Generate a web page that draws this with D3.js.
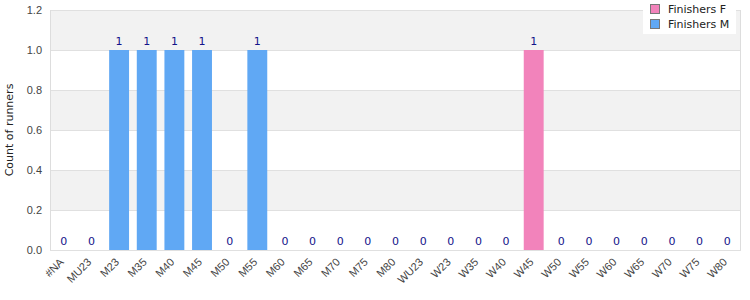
<!DOCTYPE html>
<html>
<head>
<meta charset="utf-8">
<script src="https://cdn.jsdelivr.net/npm/d3@7"></script>
<style>
  body { margin: 0; background: #fff; }
  svg { font-family: "DejaVu Sans", sans-serif; }
</style>
</head>
<body>
<div class="chart"></div>
<script>
// Data.
const categories = ["#NA", "MU23", "M23", "M35", "M40", "M45", "M50", "M55", "M60", "M65",
  "M70", "M75", "M80", "WU23", "W23", "W35", "W40", "W45", "W50", "W55", "W60", "W65",
  "W70", "W75", "W80"];
const finishersF = [0, 0, 0, 0, 0, 0, 0, 0, 0, 0, 0, 0, 0, 0, 0, 0, 0, 1, 0, 0, 0, 0, 0, 0, 0];
const finishersM = [0, 0, 1, 1, 1, 1, 0, 1, 0, 0, 0, 0, 0, 0, 0, 0, 0, 0, 0, 0, 0, 0, 0, 0, 0];
const yTicks = [0, 0.2, 0.4, 0.6, 0.8, 1.0, 1.2];
const seriesNames = ["Finishers F", "Finishers M"];
const seriesColors = ["#f283bb", "#60a8f4"];

// Combined value per category (only one series is non-zero at a time).
const rows = categories.map((c, i) => ({
  cat: c,
  value: finishersF[i] + finishersM[i],
  series: finishersF[i] > 0 ? 0 : 1,
}));

const W = 750, H = 300;
const margin = { top: 10, right: 9, bottom: 50, left: 50 };
const width = W - margin.left - margin.right;
const height = H - margin.top - margin.bottom;

const svg = d3.select(".chart").append("svg")
  .attr("width", W).attr("height", H);
const g = svg.append("g").attr("transform", `translate(${margin.left},${margin.top})`);

const x = d3.scaleBand().domain(categories).range([0, width]).paddingInner(0.28).paddingOuter(0.14);
const y = d3.scaleLinear().domain([0, 1.2]).range([height, 0]);

// Striped background.
for (let i = 0; i < yTicks.length - 1; i++) {
  g.append("rect")
    .attr("x", 0).attr("width", width)
    .attr("y", y(yTicks[i + 1]))
    .attr("height", y(yTicks[i]) - y(yTicks[i + 1]))
    .attr("fill", i % 2 === 1 ? "#f2f2f2" : "#fff");
}

// Grid lines.
g.append("g").selectAll("line").data(yTicks).join("line")
  .attr("x1", 0).attr("x2", width)
  .attr("y1", d => y(d) + 0.5).attr("y2", d => y(d) + 0.5)
  .attr("stroke", "#e0e0e0");
g.append("line").attr("x1", 0.5).attr("x2", 0.5).attr("y1", 0).attr("y2", height).attr("stroke", "#ddd");
g.append("line").attr("x1", width - 0.5).attr("x2", width - 0.5).attr("y1", 0).attr("y2", height).attr("stroke", "#ddd");

// Y axis.
const yAxis = g.append("g")
  .call(d3.axisLeft(y).tickValues(yTicks).tickFormat(d3.format(".1f")).tickSize(0));
yAxis.select(".domain").remove();
yAxis.selectAll("text").attr("x", -8).attr("fill", "#444").style("font-size", "11px");

// X axis.
const xAxis = g.append("g").attr("transform", `translate(0,${height})`)
  .call(d3.axisBottom(x).tickSize(0));
xAxis.select(".domain").remove();
xAxis.selectAll("text")
  .attr("fill", "#444").style("font-size", "11px")
  .attr("text-anchor", "end")
  .attr("y", 0)
  .attr("dy", "0.35em")
  .attr("transform", "translate(-2,10) rotate(-45)");

// Y label.
svg.append("text")
  .attr("transform", `translate(9,${margin.top + height / 2}) rotate(-90)`)
  .attr("text-anchor", "middle")
  .attr("dy", "0.35em")
  .style("font-size", "11px")
  .attr("fill", "#222")
  .text("Count of runners");

// Bars.
g.append("g").selectAll("rect").data(rows.filter(d => d.value > 0)).join("rect")
  .attr("x", d => x(d.cat))
  .attr("width", x.bandwidth())
  .attr("y", d => y(d.value))
  .attr("height", d => y(0) - y(d.value))
  .attr("fill", d => seriesColors[d.series]);

// Value labels.
g.append("g").selectAll("text").data(rows).join("text")
  .attr("x", d => x(d.cat) + x.bandwidth() / 2)
  .attr("y", d => y(d.value) - 5)
  .attr("text-anchor", "middle")
  .style("font-size", "11px")
  .attr("fill", "#14148a")
  .text(d => d.value);

// Legend.
const legend = svg.append("g").attr("transform", "translate(643,0)");
legend.append("rect").attr("width", 93).attr("height", 34).attr("fill", "#fff");
seriesNames.forEach((s, i) => {
  legend.append("rect")
    .attr("x", 7.5).attr("y", 4.5 + i * 15)
    .attr("width", 9).attr("height", 9)
    .attr("fill", seriesColors[i]).attr("stroke", "#777");
  legend.append("text")
    .attr("x", 25).attr("y", 9 + i * 15)
    .attr("dy", "0.35em")
    .style("font-size", "11px")
    .attr("fill", "#222")
    .text(s);
});
</script>
</body>
</html>
